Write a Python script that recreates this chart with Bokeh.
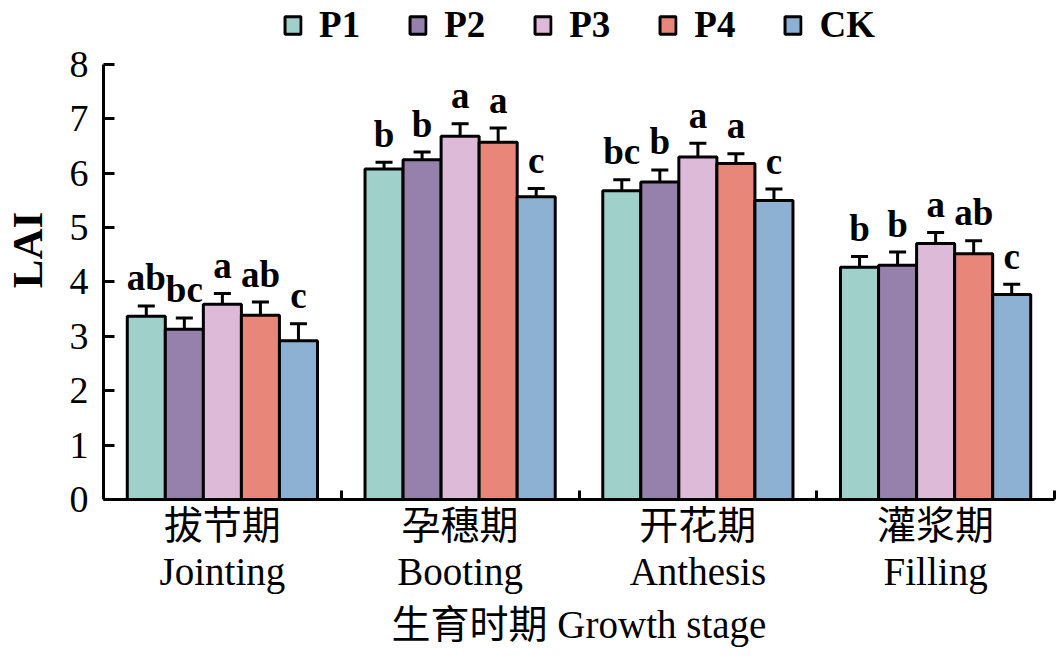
from bokeh.plotting import figure
from bokeh.models import (ColumnDataSource, Range1d, FixedTicker, Whisker, TeeHead,
                          Legend, LegendItem)
from bokeh.core.properties import value
from bokeh.embed import file_html
from bokeh.resources import INLINE

# ---- data ----
stages_cn = ["拔节期", "孕穗期", "开花期", "灌浆期"]
stages_en = ["Jointing", "Booting", "Anthesis", "Filling"]
treatments = ["P1", "P2", "P3", "P4", "CK"]

P1 = [3.37, 6.08, 5.68, 4.27]
P2 = [3.13, 6.25, 5.84, 4.31]
P3 = [3.59, 6.68, 6.30, 4.71]
P4 = [3.39, 6.57, 6.18, 4.52]
CK = [2.92, 5.57, 5.50, 3.77]

P1_err = [0.19, 0.12, 0.20, 0.20]
P2_err = [0.21, 0.14, 0.22, 0.24]
P3_err = [0.20, 0.23, 0.25, 0.20]
P4_err = [0.24, 0.26, 0.18, 0.24]
CK_err = [0.31, 0.15, 0.21, 0.19]

P1_sig = ["ab", "b", "bc", "b"]
P2_sig = ["bc", "b", "b", "b"]
P3_sig = ["a", "a", "a", "a"]
P4_sig = ["ab", "a", "a", "ab"]
CK_sig = ["c", "c", "c", "c"]

y_ticks = [0, 1, 2, 3, 4, 5, 6, 7, 8]

colors = ["#A0D0CA", "#9581AC", "#DDBBD8", "#E8867A", "#8DB1D2"]

series = [P1, P2, P3, P4, CK]
errs = [P1_err, P2_err, P3_err, P4_err, CK_err]
sigs = [P1_sig, P2_sig, P3_sig, P4_sig, CK_sig]

SERIF = "Liberation Serif, Noto Sans CJK SC"
BAR_W = 0.16

# frame spans the legend strip too; the y axis itself is bounded to 0..8
p = figure(frame_width=951, frame_height=499, output_backend="svg", toolbar_location=None,
           x_range=Range1d(0, 4), y_range=Range1d(0, 9.177),
           min_border_left=100, min_border_right=9, min_border_top=0,
           min_border_bottom=160)
p.background_fill_color = "white"
p.border_fill_color = "white"
p.outline_line_color = None
p.xgrid.grid_line_color = None
p.ygrid.grid_line_color = None

items = []
for k, (name, vals, er, sg, col) in enumerate(zip(treatments, series, errs, sigs, colors)):
    xs = [i + 0.5 + (k - 2) * BAR_W for i in range(len(vals))]
    src = ColumnDataSource(dict(
        x=xs, top=vals,
        upper=[v + e for v, e in zip(vals, er)],
        lower=[v - e for v, e in zip(vals, er)],
        sig=sg))
    r = p.vbar(x="x", top="top", bottom=0, width=BAR_W, source=src,
               fill_color=col, line_color="black", line_width=3)
    items.append(LegendItem(label=name, renderers=[r]))
    w = Whisker(source=src, base="x", upper="upper", lower="lower",
                line_color="black", line_width=3,
                upper_head=TeeHead(size=17, line_width=3, line_color="black"),
                lower_head=TeeHead(size=17, line_width=3, line_color="black"))
    p.add_layout(w)
    p.text(x="x", y="upper", text="sig", source=src, y_offset=-28,
           text_align="center", text_baseline="alphabetic",
           text_font=value("Liberation Serif"), text_font_size="37px",
           text_font_style="bold", text_color="black")

# axes
ax = p.xaxis[0]
ax.ticker = FixedTicker(ticks=[i + 0.5 for i in range(len(stages_cn))],
                        minor_ticks=[i + 1 for i in range(len(stages_cn))])
ax.major_label_overrides = {i + 0.5: f"{c}\n{e}" for i, (c, e) in enumerate(zip(stages_cn, stages_en))}
ax.major_tick_line_color = None
ax.minor_tick_in = 9
ax.minor_tick_out = 0
ax.minor_tick_line_width = 3
ax.minor_tick_line_color = "black"
ax.axis_line_width = 3
ax.axis_line_color = "black"
ax.major_label_text_font = SERIF
ax.major_label_text_font_size = "39px"
ax.major_label_text_line_height = 1.08
ax.major_label_text_color = "black"
ax.major_label_standoff = -2
ax.axis_label = "生育时期 Growth stage"
ax.axis_label_text_font = SERIF
ax.axis_label_text_font_size = "39px"
ax.axis_label_text_font_style = "normal"
ax.axis_label_text_color = "black"
ax.axis_label_standoff = 7

ay = p.yaxis[0]
ay.ticker = FixedTicker(ticks=y_ticks)
ay.bounds = (0, 8)
ay.major_tick_in = 11
ay.major_tick_out = 0
ay.major_tick_line_width = 3
ay.minor_tick_line_color = None
ay.axis_line_width = 3
ay.axis_line_color = "black"
ay.major_label_text_font = "Liberation Serif"
ay.major_label_text_font_size = "38px"
ay.major_label_text_color = "black"
ay.major_label_standoff = 15
ay.axis_label = "LAI"
ay.axis_label_text_font = "Liberation Serif"
ay.axis_label_text_font_size = "43px"
ay.axis_label_text_font_style = "bold"
ay.axis_label_text_color = "black"
ay.axis_label_standoff = 16

legend = Legend(items=items, orientation="horizontal", location="top_center",
                border_line_color=None, background_fill_alpha=0,
                glyph_width=20, glyph_height=22, label_standoff=17, spacing=47,
                padding=0, margin=3,
                label_text_font="Liberation Serif", label_text_font_size="37px",
                label_text_font_style="bold", label_text_color="black")
p.add_layout(legend, "center")

open("out.html", "w").write(file_html(p, INLINE))
